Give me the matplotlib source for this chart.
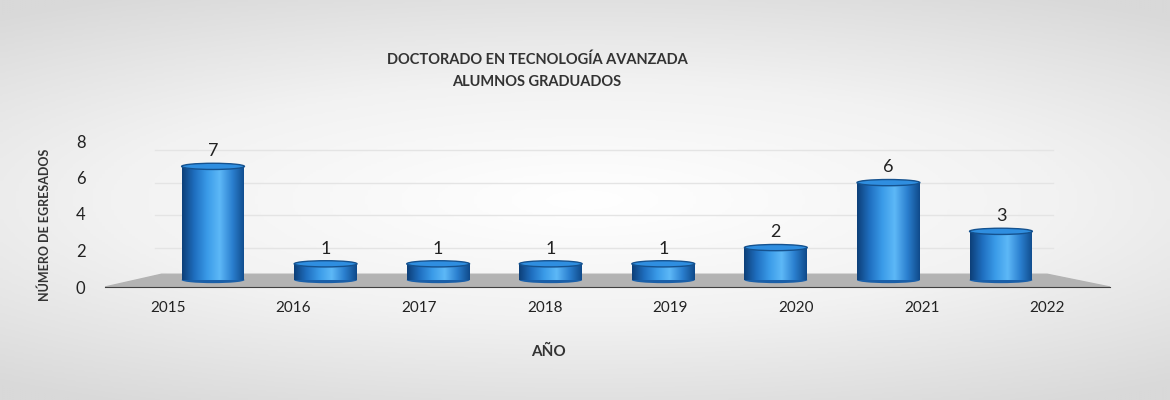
import matplotlib
matplotlib.use("Agg")
import matplotlib.pyplot as plt
import numpy as np
from matplotlib.patches import Ellipse, Polygon
from matplotlib.path import Path
from matplotlib.patches import PathPatch
from matplotlib.colors import LinearSegmentedColormap

plt.rcParams["font.family"] = ["Lato", "DejaVu Sans"]

years = ["2015", "2016", "2017", "2018", "2019", "2020", "2021", "2022"]
graduates = [7, 1, 1, 1, 1, 2, 6, 3]
y_ticks = [0, 2, 4, 6, 8]

fig = plt.figure(figsize=(11.7, 4.0), dpi=100)

# soft radial background
bg = fig.add_axes([0, 0, 1, 1], zorder=-10)
yy, xx = np.mgrid[-1:1:200j, -1:1:400j]
r = np.sqrt((xx * 0.8) ** 2 + (yy * 1.1) ** 2)
bg.imshow(r, cmap=LinearSegmentedColormap.from_list("bg", ["#ffffff", "#f2f2f2", "#d9d9d9"]),
          extent=[0, 1, 0, 1], aspect="auto", vmin=0, vmax=1.3)
bg.axis("off")

ax = fig.add_axes([105 / 1170, 113 / 400, 1005 / 1170, 146 / 400])
ax.set_xlim(-0.5, 7.5)
ax.set_ylim(0, 8)
ax.patch.set_alpha(0)
for s in ["top", "right", "left"]:
    ax.spines[s].set_visible(False)
ax.spines["bottom"].set_color("#404040")
ax.set_xticks(range(len(years)))
ax.set_xticklabels(years, fontsize=11, color="#222222")
ax.set_yticks(y_ticks)
ax.set_yticklabels([str(t) for t in y_ticks], fontsize=12, color="#222222")
ax.tick_params(length=0, pad=10)
ax.tick_params(axis="y", pad=14)

shrink, base = 0.89, 0.38
for t in y_ticks[1:]:
    yv = base + t * shrink
    ax.plot([-0.1, 7.05], [yv, yv], color="#e4e4e4", lw=1, zorder=0)

ax.add_patch(Polygon([(-0.5, 0), (7.5, 0), (7.0, 0.7), (-0.05, 0.7)],
                     closed=True, color="#b3b3b3", zorder=1))

cyl = LinearSegmentedColormap.from_list(
    "cyl", ["#0d3f78", "#1f6fc0", "#3a9be8", "#5db8f7", "#2b80d0", "#0f4a8a"])
grad = np.linspace(0, 1, 256).reshape(1, -1)
w, eh = 0.5, 0.34
for i, v in enumerate(graduates):
    xc = 0.36 + 0.896 * i
    top = base + v * shrink
    x0, x1 = xc - w / 2, xc + w / 2
    verts = [(x0, top), (x0, base), (x1, base), (x1, top), (x0, top)]
    clip = PathPatch(Path(verts), transform=ax.transData, facecolor="none", edgecolor="none")
    ax.add_patch(clip)
    im = ax.imshow(grad, cmap=cyl, extent=[x0, x1, base, top], aspect="auto", zorder=2)
    im.set_clip_path(clip)
    ax.add_patch(Ellipse((xc, base), w, eh, facecolor="#1a5fa8", edgecolor="none", zorder=1.9))
    ax.add_patch(Ellipse((xc, top), w, eh, facecolor="#2f8ee0", edgecolor="#15528f", lw=1, zorder=3))
    ax.text(xc, top + 0.4, str(v), ha="center", va="bottom", fontsize=13, color="#222222")

fig.text(537 / 1170, 1 - 60 / 400, "DOCTORADO EN TECNOLOGÍA AVANZADA", ha="center", va="center",
         fontsize=10.5, fontweight="bold", color="#333333")
fig.text(537 / 1170, 1 - 82 / 400, "ALUMNOS GRADUADOS", ha="center", va="center",
         fontsize=10.5, fontweight="bold", color="#333333")
fig.text(45 / 1170, 1 - 225 / 400, "NÚMERO DE EGRESADOS", rotation=90, ha="center", va="center",
         fontsize=9, fontweight="bold", color="#333333")
fig.text(548 / 1170, 1 - 352 / 400, "AÑO", ha="center", va="center",
         fontsize=11, fontweight="bold", color="#333333")

fig.savefig("out.png", dpi=100)
